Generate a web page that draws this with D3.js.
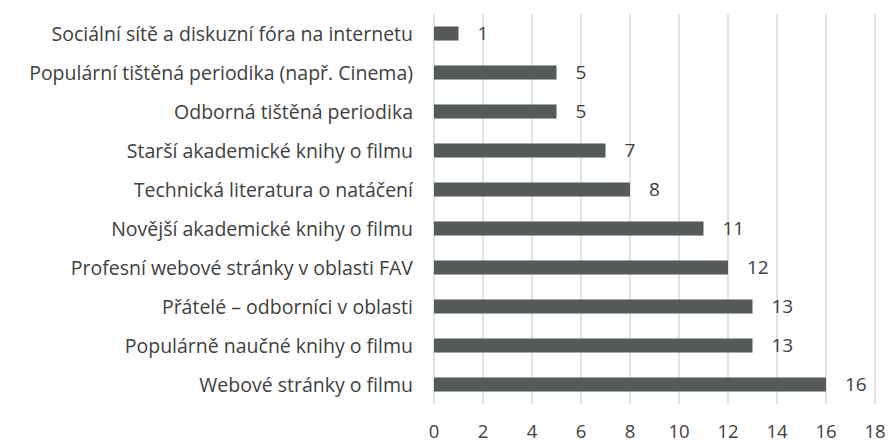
<!DOCTYPE html>
<html>
<head>
<meta charset="utf-8">
<script src="https://cdn.jsdelivr.net/npm/d3@7"></script>
<style>
  body { margin: 0; background: #fff; }
  text { font-family: "Open Sans", Lato, sans-serif; }
</style>
</head>
<body>
<div id="chart"></div>
<script>
// categories from top to bottom
const categories = [
  "Sociální sítě a diskuzní fóra na internetu",
  "Populární tištěná periodika (např. Cinema)",
  "Odborná tištěná periodika",
  "Starší akademické knihy o filmu",
  "Technická literatura o natáčení",
  "Novější akademické knihy o filmu",
  "Profesní webové stránky v oblasti FAV",
  "Přátelé – odborníci v oblasti",
  "Populárně naučné knihy o filmu",
  "Webové stránky o filmu"
];
const values = [1, 5, 5, 7, 8, 11, 12, 13, 13, 16];
const ticks = [0, 2, 4, 6, 8, 10, 12, 14, 16, 18];

const width = 889;
const height = 444;
const margin = {top: 14, right: 14, bottom: 40, left: 434};

const svg = d3.select("#chart")
  .append("svg")
  .attr("width", width)
  .attr("height", height);

const x = d3.scaleLinear()
  .domain([0, 18])
  .range([margin.left, 875]);

const y = d3.scaleBand()
  .domain(categories)
  .range([margin.top, 404])
  .paddingInner(0.64)
  .paddingOuter(0.32);

// vertical gridlines
svg.append("g")
  .selectAll("line")
  .data(ticks)
  .enter().append("line")
  .attr("x1", d => x(d))
  .attr("x2", d => x(d))
  .attr("y1", margin.top)
  .attr("y2", 404)
  .attr("stroke", "#d9d9d9")
  .attr("stroke-width", 1.5);

// bars
svg.append("g")
  .selectAll("rect")
  .data(values)
  .enter().append("rect")
  .attr("x", x(0))
  .attr("y", (d, i) => y(categories[i]))
  .attr("width", d => x(d) - x(0))
  .attr("height", y.bandwidth())
  .attr("fill", "#575a5a");

// value labels
svg.append("g")
  .selectAll("text")
  .data(values)
  .enter().append("text")
  .attr("x", d => x(d) + 19)
  .attr("y", (d, i) => y(categories[i]) + y.bandwidth() / 2)
  .attr("dy", "0.36em")
  .attr("font-size", 19)
  .attr("fill", "#404040")
  .text(d => d);

// category labels
svg.append("g")
  .selectAll("text")
  .data(categories)
  .enter().append("text")
  .attr("x", 413)
  .attr("y", d => y(d) + y.bandwidth() / 2)
  .attr("dy", "0.36em")
  .attr("text-anchor", "end")
  .attr("font-size", 19.5)
  .attr("fill", "#404040")
  .text(d => d);

// x axis tick labels
svg.append("g")
  .selectAll("text")
  .data(ticks)
  .enter().append("text")
  .attr("x", d => x(d))
  .attr("y", 431)
  .attr("dy", "0.36em")
  .attr("text-anchor", "middle")
  .attr("font-size", 18.5)
  .attr("fill", "#404040")
  .text(d => d);
</script>
</body>
</html>
